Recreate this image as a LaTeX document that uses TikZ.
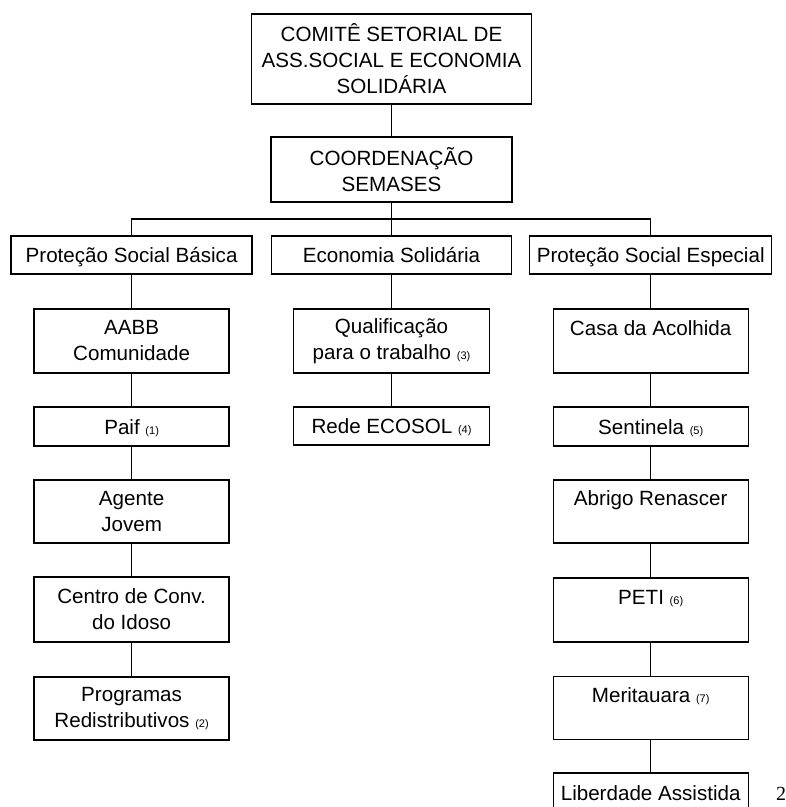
\documentclass[tikz,border=0pt]{standalone}
\usepackage{fontspec}
\setmainfont{Liberation Sans}
\newfontfamily\pagenumfont{Liberation Serif}
% small footnote-style numbers after a label
\newcommand\noteno[1]{{\fontsize{11}{12}\selectfont(#1)}}

\begin{document}
\begin{tikzpicture}[x=1pt,y=-1pt,
  orgbox/.style={draw, line width=1.4pt, inner sep=0pt, align=center,
    font=\fontsize{20.6}{26}\selectfont},
  oneline/.style={text height=19pt, text depth=4pt},
  colbox/.style={orgbox, minimum width=195pt},
  link/.style={line width=1.4pt}]
\useasboundingbox (0,0) rectangle (786,807);

% top levels
\node[orgbox, minimum width=280pt, minimum height=90pt] (top) at (391.5,59)
  {COMITÊ SETORIAL DE\\ASS.SOCIAL E ECONOMIA\\SOLIDÁRIA};
\node[orgbox, minimum width=241pt, minimum height=65pt] (coord) at (391.5,169.5)
  {COORDENAÇÃO\\SEMASES};

% second level
\node[orgbox, oneline, minimum width=241pt, minimum height=38pt] (psb) at (131.6,255) {Proteção Social Básica};
\node[orgbox, oneline, minimum width=240pt, minimum height=38pt] (es) at (391.5,255) {Economia Solidária};
\node[orgbox, oneline, minimum width=242pt, minimum height=38pt] (pse) at (650.7,255) {Proteção Social Especial};

% left column
\node[colbox, minimum height=64pt] (aabb) at (131.6,341) {AABB\\Comunidade};
\node[colbox, oneline, minimum height=39pt] (paif) at (131.6,426.5) {Paif \noteno{1}};
\node[colbox, minimum height=63pt] (agente) at (131.6,511.5) {Agente\\Jovem};
\node[colbox, minimum height=65pt] (centro) at (131.6,609.5) {Centro de Conv.\\do Idoso};
\node[colbox, minimum height=63pt] (prog) at (131.6,708.5) {Programas\\Redistributivos \noteno{2}};

% middle column
\node[colbox, minimum width=196pt, minimum height=64pt] (qual) at (391.5,341) {Qualificação\\para o trabalho \noteno{3}};
\node[colbox, oneline, minimum width=196pt, minimum height=38pt] (rede) at (391.5,426) {Rede ECOSOL \noteno{4}};

% right column
\node[colbox, minimum height=64pt] (casa) at (650.7,341) {Casa da Acolhida\\\mbox{}};
\node[colbox, oneline, minimum height=39pt] (sent) at (650.7,426.5) {Sentinela \noteno{5}};
\node[colbox, minimum height=63pt] (abrigo) at (650.7,511.5) {Abrigo Renascer\\\mbox{}};
\node[colbox, minimum height=64pt] (peti) at (650.7,610) {PETI \noteno{6}\\\mbox{}};
\node[colbox, minimum height=63pt] (merit) at (650.7,708) {Meritauara \noteno{7}\\\mbox{}};
\node[colbox, oneline, minimum height=39pt] (liber) at (650.7,792.5) {Liberdade Assistida};

% page number
\node[anchor=base west, inner sep=0pt, font=\pagenumfont\fontsize{20}{24}\selectfont] (pg) at (776,800) {2};

% connectors
\coordinate (bus) at (391.5,219);
\draw[link] (top) -- (coord);
\draw[link] (coord) -- (es);
\draw[link] (psb) |- (bus) -| (pse);
\draw[link] (psb) -- (aabb) -- (paif) -- (agente) -- (centro) -- (prog);
\draw[link] (es) -- (qual) -- (rede);
\draw[link] (pse) -- (casa) -- (sent) -- (abrigo) -- (peti) -- (merit) -- (liber);
\end{tikzpicture}
\end{document}
